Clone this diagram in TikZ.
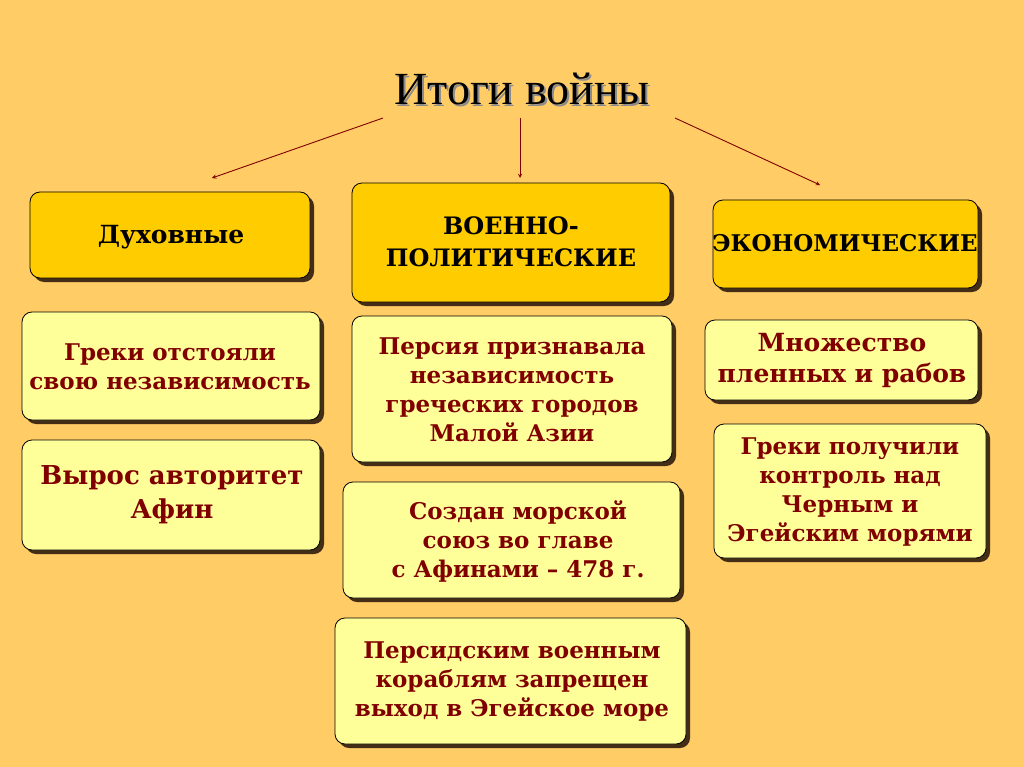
\documentclass[tikz,border=0pt]{standalone}
\usepackage{fontspec}
\setmainfont{DejaVu Serif}
\newfontfamily\serif{Liberation Serif}
\usetikzlibrary{shadows}
\definecolor{bg}{HTML}{FFCC66}
\definecolor{hdr}{HTML}{FFCC00}
\definecolor{cnt}{HTML}{FFFF99}
\definecolor{dred}{HTML}{800000}
\begin{document}
\begin{tikzpicture}[x=1pt,y=-1pt,
  box/.style={draw=black,line width=0.8pt,rounded corners=10pt,drop shadow={shadow xshift=4pt,shadow yshift=-4pt,fill=black!65!brown,opacity=1}},
  hbox/.style={box,fill=hdr},
  cbox/.style={box,fill=cnt},
  htxt/.style={font=\bfseries\fontsize{23}{30}\selectfont,align=center,text=black,inner sep=0pt},
  ctxt/.style={font=\bfseries\fontsize{23}{29}\selectfont,align=center,text=dred,inner sep=0pt},
  arr/.style={draw=dred,line width=0.9pt,-stealth}]
\fill[bg] (0,0) rectangle (1024,767);
\useasboundingbox (0,0) rectangle (1024,767);
\node[font=\serif\fontsize{46}{50}\selectfont,text=black] (title) at (522,90) {\rlap{\hspace{2pt}\raisebox{-2pt}{\color{black!45}Итоги войны}}Итоги войны};
\coordinate (a1) at (383,118); \coordinate (a2) at (520,118); \coordinate (a3) at (675,118);
\path[hbox] (30,192) rectangle (310,278);
\path[hbox] (352,183) rectangle (670,302);
\path[hbox] (713,200) rectangle (978,288);
\node[htxt,font=\bfseries\fontsize{25}{30}\selectfont] (h1) at (171,237) {Духовные};
\node[htxt,font=\bfseries\fontsize{24}{32}\selectfont] (h2) at (511,242) {ВОЕННО-\\ПОЛИТИЧЕСКИЕ};
\node[htxt] (h3) at (845,243) {ЭКОНОМИЧЕСКИЕ};
\draw[arr] (a1) -- (212,178);
\draw[arr] (a2) -- (520,178);
\draw[arr] (a3) -- (820,185);
\path[cbox] (22,312) rectangle (320,420);
\path[cbox] (22,440) rectangle (320,550);
\path[cbox] (352,316) rectangle (672,462);
\path[cbox] (343,482) rectangle (680,598);
\path[cbox] (335,618) rectangle (686,744);
\path[cbox] (705,320) rectangle (978,400);
\path[cbox] (714,424) rectangle (986,558);
\node[ctxt] (c1) at (170,367) {Греки отстояли\\свою независимость};
\node[ctxt,font=\bfseries\fontsize{26}{34}\selectfont] (c2) at (172,495) {Вырос авторитет\\Афин};
\node[ctxt] (c3) at (512,390) {Персия признавала\\независимость\\греческих городов\\Малой Азии};
\node[ctxt] (c4) at (518,541) {Создан морской\\союз во главе\\с Афинами – 478 г.};
\node[ctxt] (c5) at (512,682) {Персидским военным\\кораблям запрещен\\выход в Эгейское море};
\node[ctxt,font=\bfseries\fontsize{25}{31}\selectfont] (c6) at (842,360) {Множество\\пленных и рабов};
\node[ctxt] (c7) at (850,492) {Греки получили\\контроль над\\Черным и\\Эгейским морями};
\end{tikzpicture}
\end{document}
